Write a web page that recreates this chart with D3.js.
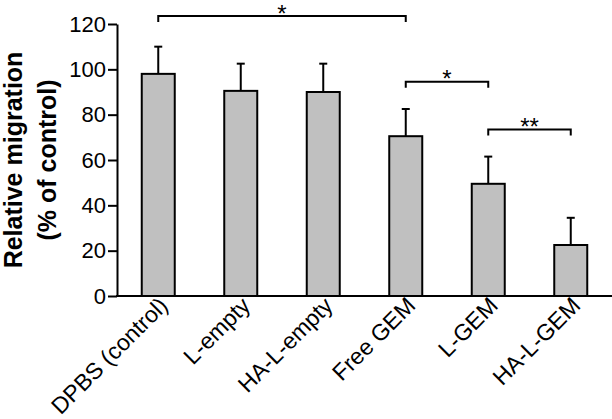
<!DOCTYPE html>
<html>
<head>
<meta charset="utf-8">
<script src="https://cdn.jsdelivr.net/npm/d3@7"></script>
<style>
  body { margin: 0; background: #fff; }
  text { font-family: "Liberation Sans", Arial, sans-serif; fill: #000; }
</style>
</head>
<body>
<svg id="chart" width="612" height="419"></svg>
<script>
// values
const groups = ["DPBS (control)", "L-empty", "HA-L-empty", "Free GEM", "L-GEM", "HA-L-GEM"];
const means = [98, 90.5, 90, 70.5, 49.5, 22.5];
const errors = [12, 12, 12.5, 12, 12, 12];
const yTicks = [0, 20, 40, 60, 80, 100, 120];
const brackets = [
  { from: 0, to: 3, level: 123.5, label: "*" },
  { from: 3, to: 4, level: 94.5, label: "*" },
  { from: 4, to: 5, level: 73.5, label: "**" }
];

const svg = d3.select("#chart");

const x = d3.scaleBand()
    .domain(groups)
    .range([117, 612])
    .paddingInner(0.6)
    .paddingOuter(0.3);

const y = d3.scaleLinear()
    .domain([0, 120])
    .range([296, 24]);

const data = groups.map((g, i) => ({ g, m: means[i], e: errors[i] }));

// bars
svg.append("g")
  .selectAll("rect")
  .data(data)
  .enter().append("rect")
    .attr("x", d => x(d.g))
    .attr("y", d => y(d.m))
    .attr("width", x.bandwidth())
    .attr("height", d => y(0) - y(d.m))
    .attr("fill", "#c0c0c0")
    .attr("stroke", "#000")
    .attr("stroke-width", 2);

// error bars (upper only)
const err = svg.append("g").attr("stroke", "#000").attr("stroke-width", 2);
err.selectAll("line.v")
  .data(data)
  .enter().append("line")
    .attr("class", "v")
    .attr("x1", d => x(d.g) + x.bandwidth() / 2)
    .attr("x2", d => x(d.g) + x.bandwidth() / 2)
    .attr("y1", d => y(d.m))
    .attr("y2", d => y(d.m + d.e));
err.selectAll("line.cap")
  .data(data)
  .enter().append("line")
    .attr("class", "cap")
    .attr("x1", d => x(d.g) + x.bandwidth() / 2 - 4)
    .attr("x2", d => x(d.g) + x.bandwidth() / 2 + 4)
    .attr("y1", d => y(d.m + d.e))
    .attr("y2", d => y(d.m + d.e));

// y axis
const yAxis = svg.append("g")
    .attr("transform", "translate(117,0)")
    .call(d3.axisLeft(y).tickValues(yTicks).tickSize(9).tickSizeOuter(0).tickPadding(2));
yAxis.select(".domain").attr("stroke-width", 2);
yAxis.selectAll(".tick line").attr("stroke-width", 2);
yAxis.selectAll(".tick text")
    .attr("font-size", 22)
    .attr("font-family", "Liberation Sans, Arial, sans-serif");

// x axis line
svg.append("line")
    .attr("x1", 116)
    .attr("x2", 612)
    .attr("y1", y(0))
    .attr("y2", y(0))
    .attr("stroke", "#000")
    .attr("stroke-width", 2);

// x labels, rotated
svg.append("g")
  .selectAll("text")
  .data(groups)
  .enter().append("text")
    .attr("transform", d => `translate(${x(d) + x.bandwidth() / 2 + 11},${y(0) + 11}) rotate(-45)`)
    .attr("text-anchor", "end")
    .attr("font-size", 23)
    .text(d => d);

// y title
const title = svg.append("text")
    .attr("transform", "translate(0,160) rotate(-90)")
    .attr("text-anchor", "middle")
    .attr("font-size", 25)
    .attr("font-weight", "bold");
title.append("tspan").attr("x", 0).attr("y", 22).text("Relative migration");
title.append("tspan").attr("x", 0).attr("y", 56).text("(% of control)");

// significance brackets
const cx = i => x(groups[i]) + x.bandwidth() / 2;
const br = svg.append("g");
brackets.forEach(b => {
  const yy = y(b.level);
  br.append("path")
      .attr("d", `M${cx(b.from)},${yy + 6}V${yy}H${cx(b.to)}V${yy + 6}`)
      .attr("fill", "none")
      .attr("stroke", "#000")
      .attr("stroke-width", 2);
  br.append("text")
      .attr("x", (cx(b.from) + cx(b.to)) / 2)
      .attr("y", yy + 5.5)
      .attr("text-anchor", "middle")
      .attr("font-size", 24)
      .text(b.label);
});
</script>
</body>
</html>
